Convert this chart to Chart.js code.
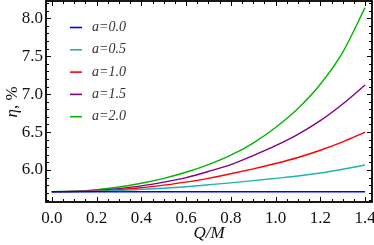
<!DOCTYPE html>
<html>
<head>
<meta charset="utf-8">
<script src="https://cdn.jsdelivr.net/npm/chart.js@4/dist/chart.umd.min.js"></script>
<style>
  html, body { margin: 0; padding: 0; background: #fff; }
  #wrap { width: 374px; height: 245px; }
</style>
</head>
<body>
<div id="wrap"><canvas id="chart" width="374" height="245"></canvas></div>
<script>
// values
const qValues = [0, 0.1, 0.2, 0.3, 0.4, 0.5, 0.6, 0.7, 0.8, 0.9, 1.0, 1.1, 1.2, 1.3, 1.4];
const seriesNames = ['a=0.0', 'a=0.5', 'a=1.0', 'a=1.5', 'a=2.0'];
const eta00 = [5.714, 5.714, 5.714, 5.714, 5.714, 5.714, 5.714, 5.714, 5.714, 5.714, 5.714, 5.714, 5.714, 5.714, 5.714];
const eta05 = [5.714, 5.716, 5.72, 5.73, 5.745, 5.76, 5.78, 5.805, 5.83, 5.86, 5.89, 5.92, 5.96, 6.01, 6.065];
const eta10 = [5.714, 5.717, 5.725, 5.74, 5.765, 5.80, 5.84, 5.89, 5.95, 6.015, 6.085, 6.165, 6.26, 6.37, 6.50];
const eta15 = [5.714, 5.718, 5.73, 5.755, 5.79, 5.84, 5.90, 5.98, 6.07, 6.19, 6.32, 6.47, 6.65, 6.87, 7.12];
const eta20 = [5.714, 5.72, 5.74, 5.775, 5.825, 5.89, 5.97, 6.07, 6.195, 6.355, 6.56, 6.81, 7.13, 7.55, 8.14];
const seriesColors = ['#0000ff', '#20b2b2', '#ff0000', '#800080', '#00b400'];
const xTickLabels = ['0.0', '0.2', '0.4', '0.6', '0.8', '1.0', '1.2', '1.4'];
const yTickLabels = ['6.0', '6.5', '7.0', '7.5', '8.0'];

const allSeries = [eta00, eta05, eta10, eta15, eta20];
const serif = "'Liberation Serif', 'DejaVu Serif', serif";

const datasets = allSeries.map((vals, i) => ({
    label: seriesNames[i],
    data: qValues.map((q, k) => ({ x: q, y: vals[k] })),
    borderColor: seriesColors[i],
    borderWidth: 1.4,
    pointRadius: 0,
    fill: false,
    cubicInterpolationMode: 'monotone'
}));

// inward frame ticks, frame, legend and axis titles
const framePlugin = {
    id: 'frame',
    afterDraw(chart) {
        const ctx = chart.ctx;
        const a = chart.chartArea;
        const xs = chart.scales.x, ys = chart.scales.y;
        ctx.save();
        ctx.strokeStyle = '#000';
        ctx.lineWidth = 1;
        // x ticks, bottom and top
        for (let v = 0; v <= 1.4001; v += 0.05) {
            const px = Math.round(xs.getPixelForValue(v)) + 0.5;
            const major = Math.abs(v / 0.2 - Math.round(v / 0.2)) < 1e-6;
            const len = major ? 5 : 3;
            ctx.beginPath();
            ctx.moveTo(px, a.bottom); ctx.lineTo(px, a.bottom - len);
            ctx.moveTo(px, a.top); ctx.lineTo(px, a.top + len);
            ctx.stroke();
        }
        // y ticks, left and right
        for (let v = 5.6; v <= 8.2001; v += 0.1) {
            const py = Math.round(ys.getPixelForValue(v)) + 0.5;
            const major = Math.abs(v / 0.5 - Math.round(v / 0.5)) < 1e-6;
            const len = major ? 5 : 3;
            ctx.beginPath();
            ctx.moveTo(a.left, py); ctx.lineTo(a.left + len, py);
            ctx.moveTo(a.right, py); ctx.lineTo(a.right - len, py);
            ctx.stroke();
        }
        ctx.lineWidth = 1.8;
        ctx.strokeRect(a.left, a.top, a.right - a.left, a.bottom - a.top);

        // legend
        ctx.font = 'italic 14px ' + serif;
        ctx.textBaseline = 'middle';
        ctx.textAlign = 'left';
        chart.data.datasets.forEach((ds, i) => {
            const y = 27.5 + i * 22.3;
            ctx.strokeStyle = ds.borderColor;
            ctx.lineWidth = 1.6;
            ctx.beginPath();
            ctx.moveTo(70, y); ctx.lineTo(82, y);
            ctx.stroke();
            ctx.fillStyle = '#333';
            ctx.fillText(ds.label, 92, y);
        });

        // y title: "η, %"
        ctx.save();
        ctx.translate(13, 102);
        ctx.rotate(-Math.PI / 2);
        ctx.fillStyle = '#111';
        ctx.textBaseline = 'middle';
        ctx.font = 'italic 17px ' + serif;
        const w1 = ctx.measureText('η').width;
        ctx.font = '17px ' + serif;
        const w2 = ctx.measureText(', %').width;
        let sx = -(w1 + w2) / 2;
        ctx.font = 'italic 17px ' + serif;
        ctx.fillText('η', sx, 0);
        ctx.font = '17px ' + serif;
        ctx.fillText(', %', sx + w1, 0);
        ctx.restore();

        // x title
        ctx.font = 'italic 17px ' + serif;
        ctx.fillStyle = '#111';
        ctx.textAlign = 'center';
        ctx.textBaseline = 'alphabetic';
        ctx.fillText('Q/M', (a.left + a.right) / 2, 238);
        ctx.restore();
    }
};

new Chart(document.getElementById('chart'), {
    type: 'line',
    data: { datasets },
    options: {
        responsive: false,
        animation: false,
        layout: { padding: { left: 0, right: 2, top: 1, bottom: 0 } },
        plugins: { legend: { display: false }, tooltip: { enabled: false } },
        scales: {
            x: {
                type: 'linear',
                min: -0.026,
                max: 1.431,
                grid: { display: false, drawTicks: false },
                border: { display: false },
                afterBuildTicks(scale) {
                    scale.ticks = xTickLabels.map(t => ({ value: parseFloat(t) }));
                },
                ticks: {
                    padding: 6,
                    color: '#111',
                    font: { family: serif, size: 17 },
                    maxRotation: 0,
                    autoSkip: false,
                    callback: (v) => xTickLabels.find(t => Math.abs(parseFloat(t) - v) < 1e-6) || ''
                },
                afterFit(scale) {
                    scale.height = 43;
                    scale.paddingLeft = 0;
                    scale.paddingRight = 0;
                }
            },
            y: {
                min: 5.578,
                max: 8.228,
                grid: { display: false, drawTicks: false },
                border: { display: false },
                afterBuildTicks(scale) {
                    scale.ticks = yTickLabels.map(t => ({ value: parseFloat(t) }));
                },
                ticks: {
                    padding: 3,
                    color: '#111',
                    font: { family: serif, size: 17 },
                    autoSkip: false,
                    callback: (v) => yTickLabels.find(t => Math.abs(parseFloat(t) - v) < 1e-6) || ''
                },
                afterFit(scale) {
                    scale.width = 46;
                    scale.paddingTop = 0;
                    scale.paddingBottom = 0;
                }
            }
        }
    },
    plugins: [framePlugin]
});
</script>
</body>
</html>
